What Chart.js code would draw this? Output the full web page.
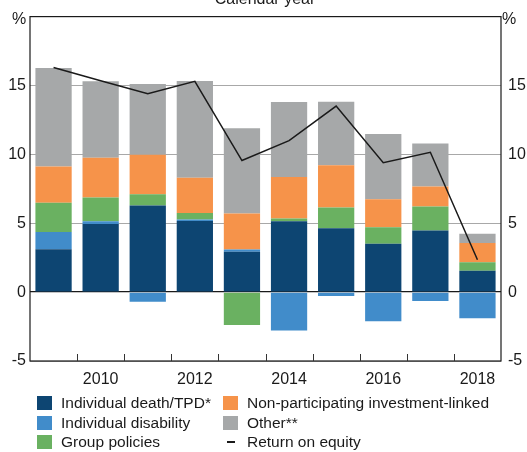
<!DOCTYPE html>
<html><head><meta charset="utf-8">
<script src="https://cdn.jsdelivr.net/npm/chart.js@4"></script>
<style>
html,body{margin:0;padding:0;background:#fff;}
#wrap{position:relative;width:527px;height:452px;overflow:hidden;font-family:"Liberation Sans",Arial,sans-serif;color:#1a1a1a;}
canvas{position:absolute;left:0;top:0;}
.t{position:absolute;white-space:nowrap;font-size:16px;line-height:16px;}
.li{position:absolute;white-space:nowrap;font-size:15.5px;line-height:20px;height:20px;}
.sw{position:absolute;width:15px;height:14px;top:3px;left:0;}
.ln{position:absolute;width:8px;height:2px;top:9px;left:4px;background:#1a1a1a;}
.lt{position:absolute;left:24px;top:0;}
</style></head>
<body>
<div id="wrap">
<canvas id="c" width="527" height="452"></canvas>
<div class="t" style="left:0;width:530px;text-align:center;top:-9px;">Calendar year</div>
<div class="t" style="left:12px;top:11px;">%</div>
<div class="t" style="left:502px;top:11px;">%</div>
<div id="legend"></div>
</div>
<script>
const years = ['2009','2010','2011','2012','2013','2014','2015','2016','2017','2018'];
const death = [3.12, 4.95, 6.29, 5.17, 2.93, 5.14, 4.64, 3.52, 4.48, 1.55];
const disability = [1.24, 0.19, -0.69, 0.10, 0.17, -2.79, -0.29, -2.12, -0.64, -1.90];
const group = [2.12, 1.72, 0.81, 0.48, -2.38, 0.21, 1.50, 1.19, 1.73, 0.62];
const nonpart = [2.64, 2.90, 2.88, 2.55, 2.61, 3.00, 3.07, 2.03, 1.45, 1.40];
const other = [7.14, 5.55, 5.12, 7.02, 6.19, 5.45, 4.60, 4.74, 3.12, 0.67];
const roe = [16.3, 15.35, 14.4, 15.3, 9.55, 11.0, 13.5, 9.4, 10.15, 2.35];
const yTicks = [-5, 0, 5, 10, 15];
const xTickLabels = ['', '2010', '', '2012', '', '2014', '', '2016', '', '2018'];

const names = ['Individual death/TPD*','Individual disability','Group policies','Non-participating investment-linked','Other**','Return on equity'];
const colors = ['#0d4572','#418cca','#6ab161','#f6934a','#a6a8a9','#1a1a1a'];

const barSets = [death, disability, group, nonpart, other].map((d,i)=>({
  type:'bar', label:names[i], data:d, backgroundColor:colors[i], borderWidth:0,
  stack:'a', order:1, categoryPercentage:1, barPercentage:0.77
}));
const lineSet = {type:'line', label:names[5], data:roe, borderColor:colors[5], borderWidth:1.5,
  pointRadius:0, tension:0, fill:false, stack:'roe', order:0};

const boxPlugin = {
  id:'box',
  afterDraw(chart){
    const {ctx, chartArea:a, scales:{x}} = chart;
    ctx.save();
    ctx.strokeStyle='#1a1a1a'; ctx.lineWidth=1.2;
    ctx.strokeRect(a.left, a.top, a.right-a.left, a.bottom-a.top);
    ctx.lineWidth=1;
    ctx.strokeStyle='#333';
    for(let i=1;i<years.length;i++){
      const px = Math.round((x.getPixelForValue(i-1)+x.getPixelForValue(i))/2)+0.5;
      ctx.beginPath(); ctx.moveTo(px, a.bottom); ctx.lineTo(px, a.bottom-7); ctx.stroke();
    }
    ctx.restore();
  }
};

const font = {family:'"Liberation Sans", Arial, sans-serif', size:16};
new Chart(document.getElementById('c'), {
  data:{labels:years, datasets:[...barSets, lineSet]},
  options:{
    responsive:false, animation:false,
    layout:{padding:{top:11,bottom:61,left:0,right:0}},
    plugins:{legend:{display:false}, tooltip:{enabled:false}},
    scales:{
      x:{stacked:true, grid:{display:false, drawTicks:false}, border:{display:false},
        ticks:{font, color:'#1a1a1a', autoSkip:false, maxRotation:0, padding:9,
          callback:(v,i)=>xTickLabels[i]},
        afterFit(s){s.height=30;}},
      y:{stacked:true, position:'left', min:-5, max:20,
        grid:{drawTicks:false, color:(c)=>c.tick.value===0?'#1a1a1a':'#a8a8a8', lineWidth:(c)=>c.tick.value===0?1.3:1},
        border:{display:false},
        afterBuildTicks(s){s.ticks=[...yTicks,20].map(v=>({value:v}));},
        ticks:{font, color:'#1a1a1a', padding:4, callback:(v)=>yTicks.includes(v)?String(v):''},
        afterFit(s){s.width=30;}},
      y2:{position:'right', min:-5, max:20, grid:{display:false, drawTicks:false}, border:{display:false},
        afterBuildTicks(s){s.ticks=[...yTicks,20].map(v=>({value:v}));},
        ticks:{font, color:'#1a1a1a', padding:7, callback:(v)=>yTicks.includes(v)?String(v):''},
        afterFit(s){s.width=26;}}
    }
  },
  plugins:[boxPlugin]
});

const leg = document.getElementById('legend');
const pos = [[37,393],[37,413],[37,432],[223,393],[223,413],[223,432]];
names.forEach((n,i)=>{
  const d=document.createElement('div'); d.className='li';
  d.style.left=pos[i][0]+'px'; d.style.top=pos[i][1]+'px';
  const s=document.createElement('div');
  if(i===5){s.className='ln';} else {s.className='sw'; s.style.background=colors[i];}
  const t=document.createElement('div'); t.className='lt'; t.textContent=n;
  d.appendChild(s); d.appendChild(t); leg.appendChild(d);
});
</script>
</body></html>
